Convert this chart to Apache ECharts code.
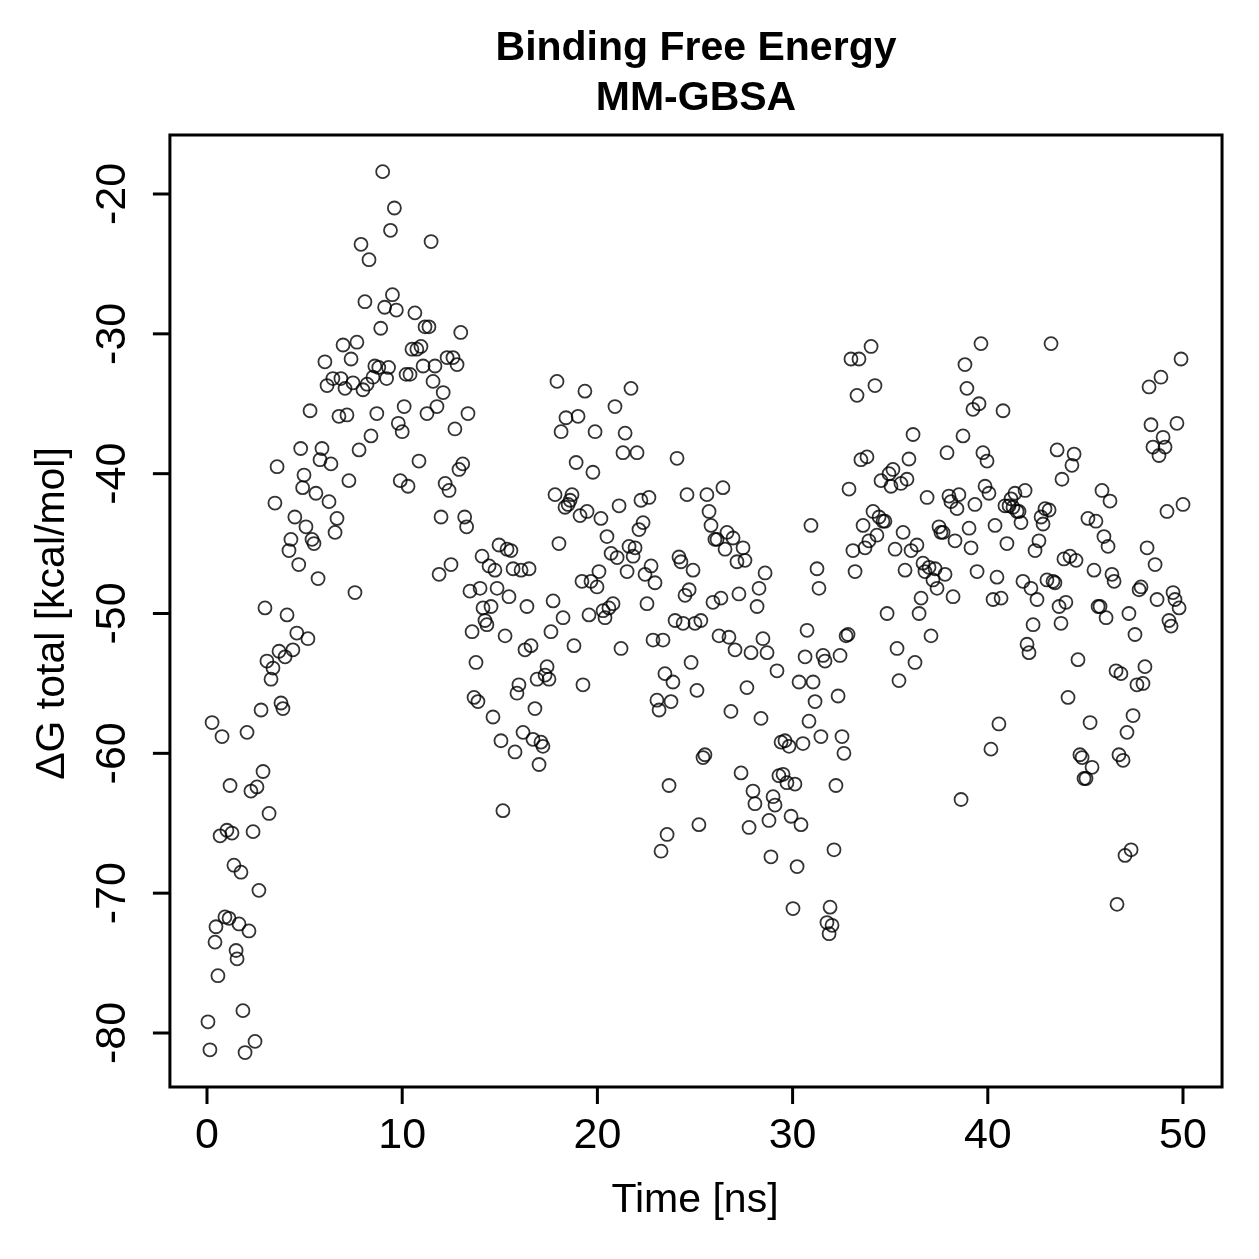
<!DOCTYPE html>
<html>
<head>
<meta charset="utf-8">
<script src="https://cdn.jsdelivr.net/npm/echarts@6/dist/echarts.min.js"></script>
<style>
html,body{margin:0;padding:0;background:#fff;}
#chart{width:1259px;height:1259px;}
</style>
</head>
<body>
<div id="chart"></div>
<script>
const titleLines = ['Binding Free Energy', 'MM-GBSA'];
const xTickRange = [0, 50, 10];      // min, max, interval of the labelled ticks
const yTickRange = [-80, -20, 10];
const xBox = [-1.9, 52.0];           // plot frame extent (data units)
const yBox = [-83.86, -15.78];
// [time (ns), ΔG total (kcal/mol)]
const samples = [
[0.05,-79.2],[0.15,-81.2],[0.26,-57.8],[0.41,-73.5],[0.46,-72.4],[0.56,-75.9],[0.67,-65.9],[0.77,-58.8],[0.92,-71.7],[1.02,-65.5],
[1.13,-71.8],[1.18,-62.3],[1.28,-65.7],[1.38,-68.0],[1.49,-74.1],[1.54,-74.7],[1.64,-72.2],[1.74,-68.5],[1.84,-78.4],[1.95,-81.4],
[2.05,-58.5],[2.15,-72.7],[2.25,-62.7],[2.36,-65.6],[2.46,-80.6],[2.56,-62.4],[2.66,-69.8],[2.77,-56.9],[2.87,-61.3],[2.97,-49.6],
[3.07,-53.4],[3.18,-64.3],[3.28,-54.7],[3.38,-53.9],[3.48,-42.1],[3.59,-39.5],[3.69,-52.7],[3.79,-56.4],[3.89,-56.8],[4.0,-53.1],
[4.1,-50.1],[4.2,-45.5],[4.3,-44.7],[4.4,-52.6],[4.5,-43.1],[4.6,-51.4],[4.7,-46.5],[4.8,-38.2],[4.9,-41.0],[4.97,-40.1],
[5.07,-43.8],[5.17,-51.8],[5.28,-35.5],[5.38,-44.7],[5.48,-45.0],[5.58,-41.4],[5.69,-47.5],[5.79,-39.0],[5.89,-38.2],[6.04,-32.0],
[6.15,-33.7],[6.25,-42.0],[6.35,-39.3],[6.45,-33.2],[6.56,-44.2],[6.66,-43.2],[6.76,-35.9],[6.86,-33.2],[6.97,-30.8],[7.07,-33.9],
[7.17,-35.8],[7.27,-40.5],[7.38,-31.8],[7.48,-33.5],[7.58,-48.5],[7.68,-30.6],[7.79,-38.3],[7.89,-23.6],[7.99,-34.0],[8.09,-27.7],
[8.2,-33.6],[8.3,-24.7],[8.4,-37.3],[8.5,-33.1],[8.6,-32.3],[8.7,-35.7],[8.8,-32.4],[8.9,-29.6],[9.0,-18.4],[9.1,-28.1],
[9.2,-33.2],[9.3,-32.4],[9.4,-22.6],[9.5,-27.2],[9.6,-21.0],[9.7,-28.3],[9.8,-36.4],[9.9,-40.5],[10.0,-37.0],[10.1,-35.2],
[10.2,-32.9],[10.3,-40.9],[10.4,-32.9],[10.5,-31.1],[10.65,-28.5],[10.75,-31.1],[10.86,-39.1],[10.96,-30.9],[11.07,-32.3],[11.17,-29.5],
[11.27,-35.7],[11.37,-29.5],[11.48,-23.4],[11.58,-33.4],[11.68,-32.3],[11.78,-35.2],[11.89,-47.2],[11.99,-43.1],[12.1,-34.2],[12.2,-40.7],
[12.3,-31.7],[12.4,-41.2],[12.5,-46.5],[12.6,-31.7],[12.7,-36.8],[12.81,-32.2],[12.91,-39.7],[13.0,-29.9],[13.1,-39.3],[13.2,-43.1],
[13.3,-43.8],[13.37,-35.7],[13.47,-48.4],[13.58,-51.3],[13.68,-56.0],[13.78,-53.5],[13.88,-56.3],[13.99,-48.2],[14.09,-45.9],[14.14,-49.6],
[14.24,-50.5],[14.34,-50.8],[14.45,-46.6],[14.55,-49.5],[14.65,-57.4],[14.75,-46.9],[14.86,-48.2],[14.96,-45.1],[15.06,-59.1],[15.16,-64.1],
[15.27,-51.6],[15.37,-45.4],[15.47,-48.8],[15.57,-45.5],[15.68,-46.8],[15.78,-59.9],[15.88,-55.7],[15.98,-55.1],[16.09,-46.9],[16.19,-58.5],
[16.29,-52.6],[16.39,-49.5],[16.5,-46.8],[16.6,-52.3],[16.7,-59.0],[16.8,-56.8],[16.91,-54.7],[17.01,-60.8],[17.11,-59.2],[17.21,-59.5],
[17.32,-54.4],[17.42,-53.8],[17.52,-54.7],[17.62,-51.3],[17.73,-49.1],[17.83,-41.5],[17.93,-33.4],[18.03,-45.0],[18.14,-37.0],[18.24,-50.3],
[18.34,-42.4],[18.39,-36.0],[18.5,-42.2],[18.6,-41.9],[18.7,-41.5],[18.8,-52.3],[18.91,-39.2],[19.01,-35.9],[19.11,-43.0],[19.21,-47.7],
[19.26,-55.1],[19.36,-34.1],[19.47,-42.7],[19.57,-50.1],[19.67,-47.7],[19.77,-39.9],[19.88,-37.0],[19.98,-48.1],[20.08,-47.0],[20.18,-43.2],
[20.29,-49.8],[20.39,-50.3],[20.49,-44.5],[20.59,-49.6],[20.7,-45.7],[20.8,-49.3],[20.9,-35.2],[21.01,-46.0],[21.11,-42.3],[21.21,-52.5],
[21.31,-38.5],[21.42,-37.1],[21.52,-47.0],[21.62,-45.2],[21.72,-33.9],[21.83,-45.9],[21.93,-45.3],[22.03,-38.5],[22.13,-44.0],[22.23,-41.9],
[22.34,-43.5],[22.44,-47.2],[22.54,-49.3],[22.64,-41.7],[22.75,-46.6],[22.85,-51.9],[22.95,-47.8],[23.05,-56.2],[23.16,-56.9],[23.26,-67.0],
[23.36,-51.9],[23.46,-54.3],[23.57,-65.8],[23.67,-62.3],[23.77,-56.3],[23.87,-54.9],[23.98,-50.5],[24.08,-38.9],[24.18,-45.96],[24.28,-46.3],
[24.39,-50.7],[24.49,-48.7],[24.59,-41.5],[24.7,-48.3],[24.8,-53.5],[24.9,-46.9],[25.0,-50.7],[25.1,-55.5],[25.2,-65.1],[25.3,-50.5],
[25.41,-60.3],[25.51,-60.1],[25.61,-41.5],[25.72,-42.7],[25.82,-43.7],[25.92,-49.2],[26.02,-44.7],[26.13,-44.7],[26.23,-51.6],[26.33,-48.9],
[26.43,-41.0],[26.54,-45.4],[26.64,-44.2],[26.74,-51.7],[26.84,-57.0],[26.95,-44.6],[27.05,-52.6],[27.15,-46.3],[27.25,-48.6],[27.36,-61.4],
[27.46,-45.3],[27.56,-46.2],[27.66,-55.3],[27.77,-65.3],[27.87,-52.8],[27.97,-62.7],[28.07,-63.6],[28.18,-49.5],[28.28,-48.2],[28.38,-57.5],
[28.48,-51.8],[28.59,-47.1],[28.69,-52.8],[28.79,-64.8],[28.89,-67.4],[29.0,-63.1],[29.1,-63.7],[29.2,-54.1],[29.3,-61.6],[29.41,-59.2],
[29.51,-61.5],[29.61,-59.1],[29.71,-62.1],[29.82,-59.5],[29.92,-64.5],[30.02,-71.1],[30.12,-62.2],[30.23,-68.1],[30.33,-54.9],[30.43,-65.1],
[30.53,-59.3],[30.64,-53.1],[30.74,-51.2],[30.84,-57.7],[30.94,-43.7],[31.05,-54.9],[31.15,-56.3],[31.25,-46.8],[31.35,-48.2],[31.45,-58.8],
[31.56,-53.0],[31.66,-53.4],[31.76,-72.1],[31.87,-72.9],[31.92,-71.0],[32.02,-72.3],[32.12,-66.9],[32.22,-62.3],[32.33,-55.9],[32.43,-53.0],
[32.53,-58.8],[32.63,-60.0],[32.74,-51.6],[32.84,-51.5],[32.89,-41.1],[32.99,-31.8],[33.09,-45.5],[33.2,-47.0],[33.3,-34.4],[33.4,-31.8],
[33.5,-39.0],[33.61,-43.7],[33.71,-45.3],[33.81,-38.8],[33.91,-44.8],[34.02,-30.9],[34.12,-42.7],[34.22,-33.7],[34.32,-44.4],[34.43,-43.1],
[34.53,-40.5],[34.63,-43.4],[34.73,-43.4],[34.84,-50.0],[34.94,-40.0],[35.04,-40.9],[35.14,-39.7],[35.25,-45.4],[35.35,-52.5],[35.45,-54.8],
[35.55,-40.7],[35.66,-44.2],[35.76,-46.9],[35.86,-40.4],[35.96,-38.95],[36.07,-45.5],[36.17,-37.2],[36.27,-53.5],[36.37,-45.1],[36.48,-50.0],
[36.58,-48.9],[36.68,-46.4],[36.78,-47.0],[36.89,-41.7],[36.99,-46.7],[37.09,-51.6],[37.19,-47.6],[37.3,-46.8],[37.4,-48.2],[37.5,-43.8],
[37.6,-44.2],[37.71,-44.2],[37.81,-47.2],[37.91,-38.5],[38.01,-41.6],[38.11,-42.0],[38.22,-48.8],[38.32,-44.8],[38.42,-42.5],[38.52,-41.5],
[38.63,-63.3],[38.73,-37.3],[38.83,-32.2],[38.93,-33.9],[39.04,-43.9],[39.14,-45.3],[39.24,-35.4],[39.34,-42.2],[39.45,-47.0],[39.55,-35.0],
[39.65,-30.7],[39.75,-38.5],[39.86,-40.9],[39.96,-39.1],[40.06,-41.4],[40.16,-59.7],[40.27,-49.0],[40.37,-43.7],[40.47,-47.4],[40.57,-57.9],
[40.68,-48.9],[40.78,-35.5],[40.88,-42.3],[40.98,-45.0],[41.09,-42.3],[41.19,-41.8],[41.29,-42.4],[41.39,-41.4],[41.5,-42.7],[41.6,-42.7],
[41.7,-43.5],[41.8,-47.7],[41.91,-41.2],[42.01,-52.2],[42.11,-52.8],[42.21,-48.2],[42.32,-50.8],[42.42,-45.5],[42.52,-49.0],[42.62,-44.8],
[42.73,-43.1],[42.83,-43.6],[42.93,-42.5],[43.03,-47.6],[43.14,-42.6],[43.24,-30.7],[43.34,-47.7],[43.44,-47.8],[43.55,-38.3],[43.65,-49.5],
[43.75,-50.7],[43.8,-40.4],[43.9,-46.1],[44.0,-49.2],[44.11,-56.0],[44.21,-45.9],[44.31,-39.4],[44.42,-38.6],[44.52,-46.2],[44.62,-53.3],
[44.72,-60.1],[44.83,-60.3],[44.93,-61.8],[45.03,-61.8],[45.13,-43.2],[45.24,-57.8],[45.34,-61.0],[45.44,-46.9],[45.54,-43.4],[45.65,-49.5],
[45.75,-49.5],[45.85,-41.2],[45.95,-44.5],[46.06,-50.3],[46.16,-45.2],[46.26,-41.96],[46.36,-47.2],[46.47,-47.7],[46.57,-54.1],[46.62,-70.8],
[46.72,-60.1],[46.82,-54.3],[46.93,-60.5],[47.03,-67.3],[47.13,-58.5],[47.23,-50.0],[47.34,-66.9],[47.44,-57.3],[47.54,-51.5],[47.64,-55.1],
[47.75,-48.3],[47.85,-48.1],[47.95,-55.0],[48.05,-53.8],[48.16,-45.3],[48.26,-33.8],[48.36,-36.5],[48.46,-38.1],[48.57,-46.5],[48.67,-49.0],
[48.77,-38.7],[48.87,-33.1],[48.98,-37.4],[49.08,-38.1],[49.18,-42.7],[49.28,-50.5],[49.39,-50.9],[49.49,-48.5],[49.59,-49.0],[49.69,-36.4],
[49.8,-49.6],[49.9,-31.8],[50.0,-42.2]
];

const FONT = '"Liberation Sans", Arial, Helvetica, sans-serif';
const TICK_LEN = 17;
const chart = echarts.init(document.getElementById('chart'));
chart.setOption({
  backgroundColor: '#ffffff',
  animation: false,
  title: {
    text: titleLines.join('\n'),
    left: 696,
    textAlign: 'center',
    top: 24,
    padding: 0,
    textStyle: {fontFamily: FONT, fontWeight: 'bold', fontSize: 41, lineHeight: 50, color: '#000'}
  },
  grid: {left: 207, top: 194, width: 976, height: 839},
  xAxis: {
    type: 'value',
    min: xTickRange[0], max: xTickRange[1], interval: xTickRange[2],
    offset: 54,
    name: 'Time [ns]',
    nameLocation: 'middle',
    nameGap: 93,
    nameTextStyle: {fontFamily: FONT, fontSize: 41, color: '#000'},
    splitLine: {show: false},
    axisLine: {show: false, onZero: false},
    axisTick: {show: false},
    axisLabel: {margin: 28, fontFamily: FONT, fontSize: 43, color: '#000'}
  },
  yAxis: {
    type: 'value',
    min: yTickRange[0], max: yTickRange[1], interval: yTickRange[2],
    offset: 37,
    name: 'ΔG total [kcal/mol]',
    nameLocation: 'middle',
    nameGap: 97,
    nameRotate: 90,
    nameTextStyle: {fontFamily: FONT, fontSize: 41, color: '#000'},
    splitLine: {show: false},
    axisLine: {show: false, onZero: false},
    axisTick: {show: false},
    axisLabel: {rotate: 90, margin: 35, fontFamily: FONT, fontSize: 43, color: '#000'}
  },
  series: [{
    type: 'scatter',
    data: samples,
    clip: false,
    symbol: 'circle',
    symbolSize: 13,
    itemStyle: {color: 'rgba(0,0,0,0)', borderColor: '#000', borderWidth: 1.8},
    emphasis: {disabled: true},
    silent: true
  }]
});

// Frame and ticks, positioned through the axes' own scales
const toPx = (x, y) => chart.convertToPixel({xAxisIndex: 0, yAxisIndex: 0}, [x, y]);
const p1 = toPx(xBox[0], yBox[1]);
const p2 = toPx(xBox[1], yBox[0]);
const frameLeft = p1[0], frameTop = p1[1], frameRight = p2[0], frameBottom = p2[1];
const lineStyle = {stroke: '#000', lineWidth: 3};
const elements = [{
  type: 'rect',
  shape: {x: frameLeft, y: frameTop, width: frameRight - frameLeft, height: frameBottom - frameTop},
  style: {fill: 'none', stroke: '#000', lineWidth: 3},
  silent: true, z: 10
}];
for (let v = xTickRange[0]; v <= xTickRange[1] + 1e-9; v += xTickRange[2]) {
  const px = toPx(v, yBox[0])[0];
  elements.push({type: 'line', shape: {x1: px, y1: frameBottom, x2: px, y2: frameBottom + TICK_LEN},
    style: lineStyle, silent: true, z: 10});
}
for (let v = yTickRange[0]; v <= yTickRange[1] + 1e-9; v += yTickRange[2]) {
  const py = toPx(xBox[0], v)[1];
  elements.push({type: 'line', shape: {x1: frameLeft, y1: py, x2: frameLeft - TICK_LEN, y2: py},
    style: lineStyle, silent: true, z: 10});
}
chart.setOption({graphic: elements});
</script>
</body>
</html>
